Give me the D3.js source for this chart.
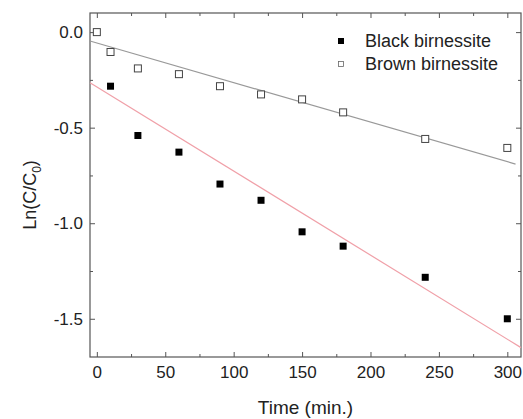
<!DOCTYPE html>
<meta charset="utf-8">
<style>
    body {
        margin: 0;
        background: #fff;
    }

    text {
        font-family: Arial, 'Liberation Sans', sans-serif;
        fill: #222;
    }

    .axis .domain {
        display: none;
    }

    .axis line {
        stroke: #555;
    }
</style>
<svg width="523" height="419"></svg>
<script src="https://cdn.jsdelivr.net/npm/d3@7"></script>
<script>
    var svg = d3.select("svg"),
        margin = { top: 13, right: 2, bottom: 62, left: 90 },
        width = +svg.attr("width") - margin.left - margin.right,
        height = +svg.attr("height") - margin.top - margin.bottom,
        g = svg.append("g").attr("transform", "translate(" + margin.left + "," + margin.top + ")");

    // time points (min.)
    var times = [0, 10, 30, 60, 90, 120, 150, 180, 240, 300];
    var blackTimes = [10, 30, 60, 90, 120, 150, 180, 240, 300];

    // Ln(C/C0)
    var brownVals = [0.0, -0.104, -0.19, -0.22, -0.283, -0.326, -0.352, -0.42, -0.559, -0.606];
    var blackVals = [-0.283, -0.541, -0.628, -0.795, -0.88, -1.045, -1.12, -1.283, -1.50];

    // linear fits: [intercept, slope, tStart, tEnd]
    var brownFit = [-0.057, -0.00207, -5, 306];
    var blackFit = [-0.287, -0.0044, -5, 310];

    var xTicks = [0, 50, 100, 150, 200, 250, 300];
    var xMinor = [25, 75, 125, 175, 225, 275];
    var yTicks = [0, -0.5, -1.0, -1.5];
    var yMinor = [-0.25, -0.75, -1.25];

    var x = d3.scaleLinear().domain([-5, 310]).range([0, width]);
    var y = d3.scaleLinear().domain([-1.7, 0.1]).range([height, 0]);

    // plain hyphen instead of d3's unicode minus
    var fmt = function (v) { return v.toFixed(1); };

    // major ticks, pointing in
    g.append("g").attr("class", "axis")
        .attr("transform", "translate(0," + height + ")")
        .call(d3.axisBottom(x).tickValues(xTicks).tickSizeInner(-5).tickSizeOuter(0).tickPadding(9))
        .selectAll("text").attr("font-size", 17).style("font-family", "Arial, 'Liberation Sans', sans-serif").attr("fill", "#222");

    g.append("g").attr("class", "axis")
        .call(d3.axisLeft(y).tickValues(yTicks).tickFormat(fmt).tickSizeInner(-5).tickSizeOuter(0).tickPadding(7))
        .selectAll("text").attr("font-size", 17).style("font-family", "Arial, 'Liberation Sans', sans-serif").attr("fill", "#222");

    g.append("g").attr("class", "axis")
        .call(d3.axisTop(x).tickValues(xTicks).tickSizeInner(-5).tickSizeOuter(0).tickFormat(""));

    g.append("g").attr("class", "axis")
        .attr("transform", "translate(" + width + ",0)")
        .call(d3.axisRight(y).tickValues(yTicks).tickSizeInner(-5).tickSizeOuter(0).tickFormat(""));

    // minor ticks
    g.append("g").attr("class", "axis")
        .attr("transform", "translate(0," + height + ")")
        .call(d3.axisBottom(x).tickValues(xMinor).tickSizeInner(-3).tickSizeOuter(0).tickFormat(""));
    g.append("g").attr("class", "axis")
        .call(d3.axisTop(x).tickValues(xMinor).tickSizeInner(-3).tickSizeOuter(0).tickFormat(""));
    g.append("g").attr("class", "axis")
        .call(d3.axisLeft(y).tickValues(yMinor).tickSizeInner(-3).tickSizeOuter(0).tickFormat(""));
    g.append("g").attr("class", "axis")
        .attr("transform", "translate(" + width + ",0)")
        .call(d3.axisRight(y).tickValues(yMinor).tickSizeInner(-3).tickSizeOuter(0).tickFormat(""));

    // frame
    g.append("rect")
        .attr("width", width)
        .attr("height", height)
        .attr("fill", "none")
        .attr("stroke", "#555")
        .attr("stroke-width", 1.2);

    // fit lines
    function fitLine(f) {
        return [f[2], f[3]].map(function (t) { return [x(t), y(f[0] + f[1] * t)]; });
    }

    g.append("path")
        .attr("d", d3.line()(fitLine(brownFit)))
        .attr("stroke", "#999")
        .attr("stroke-width", 1.2)
        .attr("fill", "none");

    g.append("path")
        .attr("d", d3.line()(fitLine(blackFit)))
        .attr("stroke", "#f0a0a8")
        .attr("stroke-width", 1.2)
        .attr("fill", "none");

    var s = 7;

    g.selectAll(".brown")
        .data(times)
        .enter().append("rect")
        .attr("class", "brown")
        .attr("x", function (d) { return x(d) - s / 2; })
        .attr("y", function (d, i) { return y(brownVals[i]) - s / 2; })
        .attr("width", s)
        .attr("height", s)
        .attr("fill", "#fff")
        .attr("stroke", "#444")
        .attr("stroke-width", 1);

    g.selectAll(".black")
        .data(blackTimes)
        .enter().append("rect")
        .attr("class", "black")
        .attr("x", function (d) { return x(d) - s / 2; })
        .attr("y", function (d, i) { return y(blackVals[i]) - s / 2; })
        .attr("width", s)
        .attr("height", s)
        .attr("fill", "#000");

    // legend
    var legend = svg.append("g").attr("transform", "translate(341,0)");
    legend.append("rect").attr("x", -3).attr("y", 38).attr("width", 6).attr("height", 6).attr("fill", "#000");
    legend.append("rect").attr("x", -2.5).attr("y", 61.5).attr("width", 5).attr("height", 5)
        .attr("fill", "#fff").attr("stroke", "#666").attr("stroke-width", 0.8);
    legend.append("text").attr("x", 24).attr("y", 47).attr("font-size", 18).text("Black birnessite");
    legend.append("text").attr("x", 24).attr("y", 70).attr("font-size", 18).text("Brown birnessite");

    // axis titles
    svg.append("text")
        .attr("x", margin.left + width / 2)
        .attr("y", 414)
        .attr("text-anchor", "middle")
        .attr("font-size", 19)
        .text("Time (min.)");

    var yl = svg.append("text")
        .attr("transform", "translate(36,195) rotate(-90)")
        .attr("text-anchor", "middle")
        .attr("font-size", 18);
    yl.append("tspan").text("Ln(C/C");
    yl.append("tspan").attr("font-size", 12).attr("dy", 5).text("0");
    yl.append("tspan").attr("dy", -5).text(")");
</script>
